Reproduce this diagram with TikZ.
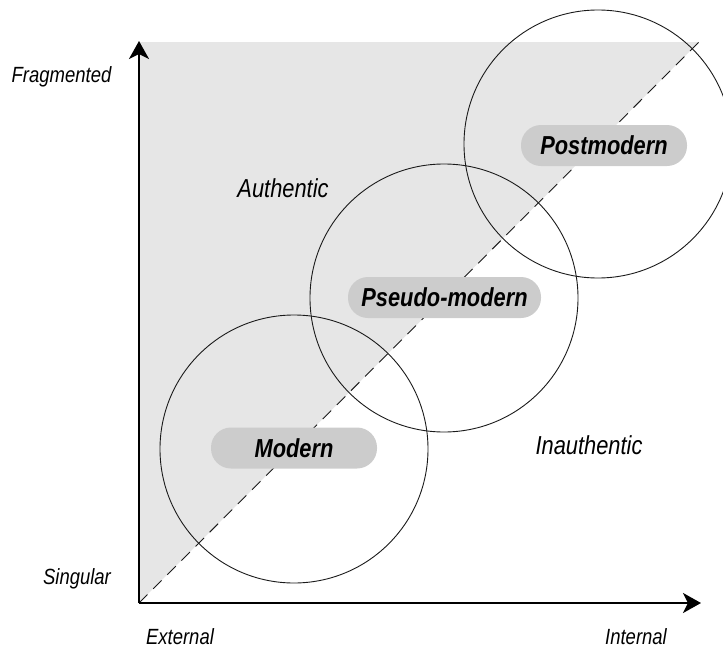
\documentclass[tikz,border=0pt]{standalone}
\usepackage{fontspec}
\setmainfont{Liberation Sans}[FakeStretch=0.84]
\usetikzlibrary{arrows.meta}
\definecolor{authgray}{HTML}{E6E6E6}
\definecolor{pillgray}{HTML}{CCCCCC}
\definecolor{ink}{HTML}{1A1A1A}
\begin{document}
\begin{tikzpicture}[x=1pt,y=-1pt,
  axis/.style={line width=2.4pt,-{Stealth[length=18pt,width=20pt,inset=5pt]}},
  divide/.style={draw=ink,line width=0.9pt,dash pattern=on 12pt off 8pt},
  zone/.style={circle,draw=ink,line width=0.9pt,minimum size=268pt,inner sep=0pt},
  pill/.style={fill=pillgray,rounded corners=20pt,minimum height=41pt,inner sep=0pt,
    font=\fontsize{26}{26}\selectfont\bfseries\itshape,text height=18.6pt,text depth=0pt},
  axlabel/.style={font=\fontsize{22}{22}\selectfont\itshape,anchor=base,inner sep=0pt},
  regionlabel/.style={font=\fontsize{26}{26}\selectfont\itshape,anchor=base,inner sep=0pt},
]
\useasboundingbox (0,0) rectangle (723,648);

% corners of the chart
\coordinate (origin) at (139,603);
\coordinate (topleft) at (139,42);
\coordinate (topright) at (699,42);
\coordinate (ytip) at (139,41);
\coordinate (xtip) at (701,603);

% authentic half (above the diagonal)
\fill[authgray] (origin) -- (topleft) -- (topright) -- cycle;
\draw[divide] (origin) -- (topright);

% eras
\node[zone] (cmodern) at (294,449) {};
\node[zone] (cpseudo) at (444,298) {};
\node[zone] (cpost) at (598,144) {};

\node[pill,minimum width=166pt] (modern) at (294,448) {Modern};
\node[pill,minimum width=193pt] (pseudo) at (444.5,297.5) {Pseudo-modern};
\node[pill,minimum width=166pt] (post) at (604,145.5) {Postmodern};

% axes
\draw[axis] (origin) -- (ytip);
\draw[axis] (origin) -- (xtip);

% labels
\node[axlabel] (frag) at (61.5,82) {Fragmented};
\node[axlabel] (sing) at (77,584) {Singular};
\node[axlabel] (ext) at (180,644) {External};
\node[axlabel] (int) at (636,644) {Internal};
\node[regionlabel] (auth) at (283,197) {Authentic};
\node[regionlabel] (inauth) at (589,454) {Inauthentic};
\end{tikzpicture}
\end{document}
